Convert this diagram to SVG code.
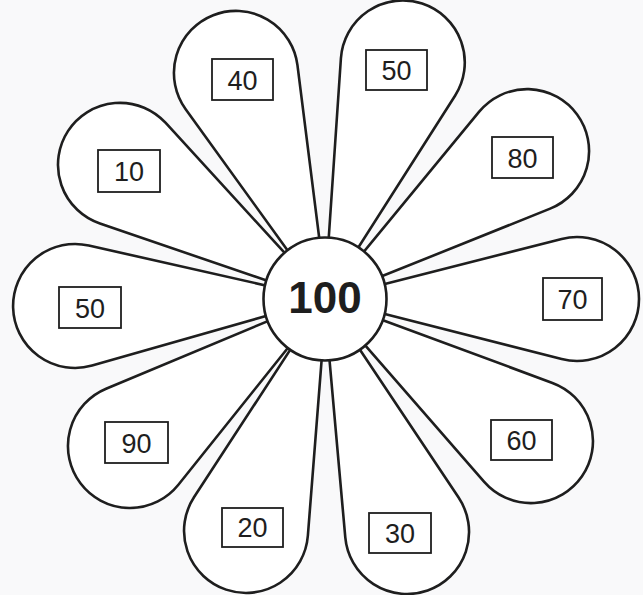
<svg xmlns="http://www.w3.org/2000/svg" width="643" height="595" viewBox="0 0 643 595">
  <style>
    .petal { fill: #ffffff; stroke: #1e1e1e; stroke-width: 2.6; stroke-linejoin: round; }
    .box { fill: #ffffff; stroke: #1e1e1e; stroke-width: 1.8; }
    .num { font-family: "Liberation Sans", Arial, sans-serif; font-size: 27px; fill: #1e1e1e; text-anchor: middle; }
    .center { fill: #ffffff; stroke: #1e1e1e; stroke-width: 2.6; }
    .big { font-family: "Liberation Sans", Arial, sans-serif; font-size: 44px; font-weight: bold; fill: #1e1e1e; text-anchor: middle; }
  </style>
  <defs>
    <path id="petal" d="M45,-12.17 L232.66,-60.07 A62,62 0 1 1 232.66,60.07 L45,12.17 Z"/>
  </defs>
  <rect width="643" height="595" fill="#f9f9fa"/>
  <g id="connectors"/>
  <g id="petal-40">
    <use href="#petal" class="petal" transform="translate(325,299) rotate(-111.5) translate(-5,0)"/>
    <rect class="box" x="212" y="59" width="61" height="41"/>
    <text class="num" x="242.5" y="89.5">40</text>
  </g>
  <g id="petal-50-top">
    <use href="#petal" class="petal" transform="translate(325,299) rotate(-71.8) translate(1,0)"/>
    <rect class="box" x="366" y="50" width="61" height="40"/>
    <text class="num" x="396.5" y="80">50</text>
  </g>
  <g id="petal-80">
    <use href="#petal" class="petal" transform="translate(325,299) rotate(-36.2) translate(2.4,0)"/>
    <rect class="box" x="492" y="137" width="61" height="41"/>
    <text class="num" x="522.5" y="167.5">80</text>
  </g>
  <g id="petal-70">
    <use href="#petal" class="petal" transform="translate(325,299) rotate(0) translate(4,0)"/>
    <rect class="box" x="543" y="278" width="59" height="42"/>
    <text class="num" x="572.5" y="309">70</text>
  </g>
  <g id="petal-60">
    <use href="#petal" class="petal" transform="translate(325,299) rotate(34.6) translate(2.2,0)"/>
    <rect class="box" x="491" y="420" width="61" height="40"/>
    <text class="num" x="521.5" y="450">60</text>
  </g>
  <g id="petal-30">
    <use href="#petal" class="petal" transform="translate(325,299) rotate(70.6) translate(-1,0)"/>
    <rect class="box" x="369" y="513" width="62" height="40"/>
    <text class="num" x="400" y="543">30</text>
  </g>
  <g id="petal-20">
    <use href="#petal" class="petal" transform="translate(325,299) rotate(108.8) translate(-3,0)"/>
    <rect class="box" x="222" y="508" width="61" height="39"/>
    <text class="num" x="252.5" y="537">20</text>
  </g>
  <g id="petal-90">
    <use href="#petal" class="petal" transform="translate(325,299) rotate(143) translate(-3.8,0)"/>
    <rect class="box" x="105" y="422" width="63" height="41"/>
    <text class="num" x="136.5" y="452.5">90</text>
  </g>
  <g id="petal-50-left">
    <use href="#petal" class="petal" transform="translate(325,299) rotate(178.4) translate(2,0)"/>
    <rect class="box" x="59" y="287" width="62" height="41"/>
    <text class="num" x="90" y="317.5">50</text>
  </g>
  <g id="petal-10">
    <use href="#petal" class="petal" transform="translate(325,299) rotate(-146.8) translate(-3,0)"/>
    <rect class="box" x="98" y="150" width="62" height="42"/>
    <text class="num" x="129" y="181">10</text>
  </g>
  <g id="center">
    <circle class="center" cx="325" cy="299" r="61.5"/>
    <text class="big" x="325" y="313">100</text>
  </g>
</svg>
